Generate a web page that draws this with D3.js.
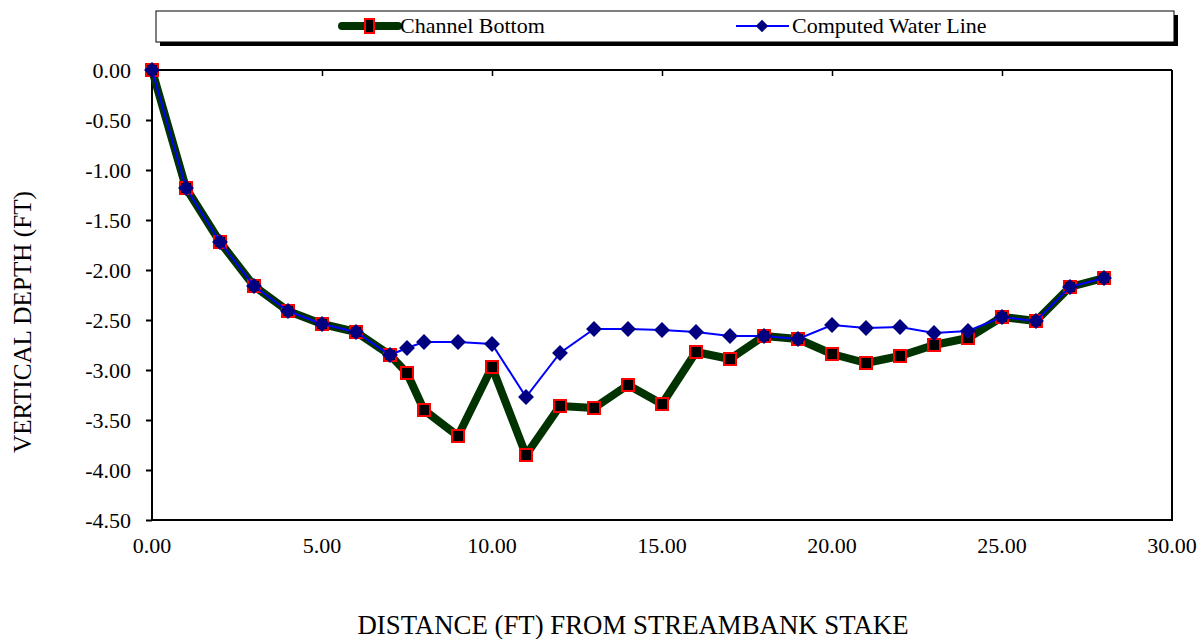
<!DOCTYPE html>
<html>
<head>
<meta charset="utf-8">
<script src="https://cdn.jsdelivr.net/npm/d3@7"></script>
<style>
  body { margin: 0; background: #fff; }
  svg text { font-family: "Liberation Serif", "Times New Roman", serif; fill: #000; }
</style>
</head>
<body>
<svg id="chart" width="1204" height="639"></svg>
<script>
// ---- data ----
const distance = [0, 1, 2, 3, 4, 5, 6, 7, 7.5, 8, 9, 10, 11, 12, 13, 14, 15, 16, 17, 18, 19, 20, 21, 22, 23, 24, 25, 26, 27, 28];
const channelBottom = [0, -1.18, -1.72, -2.16, -2.41, -2.54, -2.62, -2.85, -3.03, -3.40, -3.66, -2.97, -3.85, -3.36, -3.38, -3.15, -3.34, -2.82, -2.89, -2.66, -2.69, -2.84, -2.93, -2.86, -2.75, -2.68, -2.47, -2.51, -2.17, -2.08];
const waterLine = [0, -1.18, -1.72, -2.16, -2.41, -2.54, -2.62, -2.85, -2.78, -2.72, -2.72, -2.74, -3.27, -2.83, -2.59, -2.59, -2.60, -2.62, -2.66, -2.66, -2.69, -2.55, -2.58, -2.57, -2.63, -2.61, -2.47, -2.51, -2.17, -2.08];
const xTicks = [0, 5, 10, 15, 20, 25, 30];
const yTicks = [0, -0.5, -1, -1.5, -2, -2.5, -3, -3.5, -4, -4.5];
const seriesNames = ["Channel Bottom", "Computed Water Line"];
const xTitle = "DISTANCE (FT) FROM STREAMBANK STAKE";
const yTitle = "VERTICAL DEPTH (FT)";

// ---- layout ----
const svg = d3.select("#chart");
const L = 152, R = 1172, T = 70, B = 520;
const x = d3.scaleLinear().domain([0, 30]).range([L, R]);
const y = d3.scaleLinear().domain([0, -4.5]).range([T, B]);
const fmt = d => d3.format(".2f")(d).replace("\u2212", "-");

// frame (left, bottom, right)
svg.append("path")
  .attr("d", `M${L},${T}V${B}H${R}V${T}`)
  .attr("fill", "none").attr("stroke", "#000").attr("stroke-width", 2);

// top x axis (ticks pointing inward)
const xAxis = svg.append("g").attr("transform", `translate(0,${y(0)})`)
  .call(d3.axisBottom(x).tickValues(xTicks.slice(1, -1)).tickSize(6).tickFormat(""));
xAxis.select(".domain").attr("stroke-width", 2).attr("d", `M${L},0H${R}`);
xAxis.selectAll(".tick line").attr("stroke-width", 1.5);

// x tick labels at bottom
svg.append("g").selectAll("text").data(xTicks).join("text")
  .attr("x", d => x(d)).attr("y", 553)
  .attr("text-anchor", "middle").attr("font-size", 22)
  .text(fmt);

// y axis
const yAxis = svg.append("g").attr("transform", `translate(${L},0)`)
  .call(d3.axisLeft(y).tickValues(yTicks).tickSize(6).tickPadding(15).tickFormat(fmt));
yAxis.select(".domain").remove();
yAxis.selectAll(".tick line").attr("stroke-width", 2);
yAxis.selectAll(".tick text").attr("font-size", 22).attr("dy", "0.34em");

// axis titles
svg.append("text").attr("x", 633).attr("y", 634).attr("text-anchor", "middle")
  .attr("font-size", 26.8).text(xTitle);
svg.append("text").attr("transform", "translate(31,322) rotate(-90)")
  .attr("text-anchor", "middle").attr("font-size", 25.2).text(yTitle);

// series
const bottomData = distance.map((d, i) => [d, channelBottom[i]]);
const waterData = distance.map((d, i) => [d, waterLine[i]]);
const line = d3.line().x(d => x(d[0])).y(d => y(d[1]));

svg.append("path").datum(bottomData).attr("d", line)
  .attr("fill", "none").attr("stroke", "#003300").attr("stroke-width", 8).attr("stroke-linejoin", "round");
const sq = 12;
svg.append("g").selectAll("rect").data(bottomData).join("rect")
  .attr("x", d => x(d[0]) - sq / 2).attr("y", d => y(d[1]) - sq / 2)
  .attr("width", sq).attr("height", sq)
  .attr("fill", "#000").attr("stroke", "#ff0000").attr("stroke-width", 2);

svg.append("path").datum(waterData).attr("d", line)
  .attr("fill", "none").attr("stroke", "#0000ff").attr("stroke-width", 2);
const diamond = d3.symbol().type(d3.symbolDiamond2).size(160);
svg.append("g").selectAll("path").data(waterData).join("path")
  .attr("transform", d => `translate(${x(d[0])},${y(d[1])})`)
  .attr("d", diamond).attr("fill", "#000080");

// legend
const lg = svg.append("g");
lg.append("rect").attr("x", 160).attr("y", 15).attr("width", 1018).attr("height", 31).attr("fill", "#000");
lg.append("rect").attr("x", 156).attr("y", 11).attr("width", 1018).attr("height", 31)
  .attr("fill", "#fff").attr("stroke", "#000").attr("stroke-width", 1);
lg.append("line").attr("x1", 342).attr("x2", 398).attr("y1", 26).attr("y2", 26)
  .attr("stroke", "#003300").attr("stroke-width", 8).attr("stroke-linecap", "round");
lg.append("rect").attr("x", 365).attr("y", 19).attr("width", 9).attr("height", 14)
  .attr("fill", "#000").attr("stroke", "#ff0000").attr("stroke-width", 2);
lg.append("text").attr("x", 400).attr("y", 33).attr("font-size", 22).text(seriesNames[0]);
lg.append("line").attr("x1", 736).attr("x2", 789).attr("y1", 26).attr("y2", 26)
  .attr("stroke", "#0000ff").attr("stroke-width", 2);
lg.append("path").attr("transform", "translate(762,26)").attr("d", d3.symbol().type(d3.symbolDiamond2).size(100))
  .attr("fill", "#000080");
lg.append("text").attr("x", 792).attr("y", 33).attr("font-size", 22).text(seriesNames[1]);
</script>
</body>
</html>
